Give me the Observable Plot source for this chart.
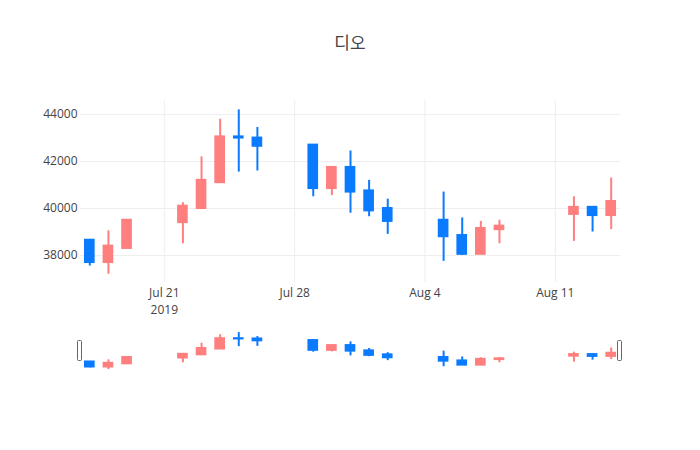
<!DOCTYPE html>
<html>
<head>
<meta charset="utf-8">
<script src="https://cdn.jsdelivr.net/npm/d3@7"></script>
<script src="https://cdn.jsdelivr.net/npm/@observablehq/plot@0.6"></script>
<style>
  html, body { margin: 0; padding: 0; background: #fff; }
  #wrap { position: relative; width: 700px; height: 450px; overflow: hidden;
          font-family: "Open Sans", "Noto Sans CJK KR", verdana, arial, sans-serif; }
  #title { position: absolute; top: 31px; left: 0; width: 700px; text-align: center;
           font-size: 17px; line-height: 24px; color: #444; }
  #main { position: absolute; top: 0; left: 0; }
  #slider { position: absolute; top: 320px; left: 0; }
</style>
</head>
<body>
<div id="wrap">
  <div id="main"></div>
  <div id="slider"></div>
  <div id="title">디오</div>
</div>
<script>
const title = "디오";
const dates = ["2019-07-17","2019-07-18","2019-07-19","2019-07-22","2019-07-23","2019-07-24","2019-07-25","2019-07-26",
               "2019-07-29","2019-07-30","2019-07-31","2019-08-01","2019-08-02",
               "2019-08-05","2019-08-06","2019-08-07","2019-08-08",
               "2019-08-12","2019-08-13","2019-08-14"];
const open  = [38650, 37700, 38300, 39400, 40000, 41100, 43050, 43000, 42700, 40850, 41750, 40750, 40000, 39500, 38850, 38050, 39100, 39750, 40050, 39700];
const high  = [38650, 39050, 39500, 40250, 42200, 43800, 44200, 43450, 42700, 41750, 42450, 41200, 40400, 40700, 39600, 39450, 39500, 40500, 40050, 41300];
const low   = [37550, 37200, 38300, 38500, 40000, 41100, 41550, 41600, 40500, 40550, 39800, 39650, 38900, 37750, 38000, 38050, 38500, 38600, 39000, 39100];
const close = [37700, 38400, 39500, 40100, 41200, 43050, 43000, 42650, 40850, 41750, 40700, 39900, 39450, 38800, 38050, 39150, 39250, 40050, 39700, 40300];
const yTicks = [38000, 40000, 42000, 44000];
const xTicks = ["2019-07-21","2019-07-28","2019-08-04","2019-08-11"];
const yearTick = ["2019-07-21"];
const xDomain = ["2019-07-16T12:00Z", "2019-08-14T12:00Z"];
const yDomain = [36850, 44600];

const upColor = "#ff7f7f", downColor = "#0a7bff";
const DAY = 864e5, HALF = 0.233 * DAY;

const data = dates.map((d, i) => ({
  date: new Date(d), open: open[i], high: high[i], low: low[i], close: close[i]
}));
const colorOf = d => d.close >= d.open ? upColor : downColor;
const fmt = d3.utcFormat("%b %-d");

function candleMarks() {
  return [
    Plot.ruleX(data, {x: "date", y1: "low", y2: "high", stroke: colorOf, strokeWidth: 2}),
    Plot.rect(data, {
      x1: d => new Date(+d.date - HALF), x2: d => new Date(+d.date + HALF),
      y1: "open", y2: "close", fill: colorOf, stroke: colorOf, strokeWidth: 2
    })
  ];
}

const font = {fontFamily: '"Open Sans", "Noto Sans CJK KR", verdana, arial, sans-serif', fontSize: "12px", color: "#444", background: "transparent"};

const main = Plot.plot({
  width: 700, height: 320,
  marginTop: 100, marginBottom: 38, marginLeft: 80, marginRight: 80,
  style: font,
  color: {type: "identity"},
  x: {type: "utc", domain: xDomain.map(d => new Date(d)), axis: null},
  y: {domain: yDomain, axis: null},
  marks: [
    Plot.gridX(xTicks.map(d => new Date(d)), {stroke: "#eee", strokeOpacity: 1, strokeWidth: 1}),
    Plot.gridY(yTicks, {stroke: "#eee", strokeOpacity: 1, strokeWidth: 1}),
    Plot.axisX(xTicks.map(d => new Date(d)), {
      tickSize: 0, tickPadding: 6, fill: "#444", tickFormat: d => fmt(d)
    }),
    Plot.axisX(yearTick.map(d => new Date(d)), {
      tickSize: 0, tickPadding: 23, fill: "#444", tickFormat: d => String(d.getUTCFullYear())
    }),
    Plot.axisY(yTicks, {tickSize: 0, tickPadding: 3, fill: "#444", tickFormat: d => String(d)}),
    ...candleMarks()
  ]
});
document.getElementById("main").appendChild(main);

const slider = Plot.plot({
  width: 700, height: 130,
  marginTop: 10, marginBottom: 79, marginLeft: 80, marginRight: 80,
  style: font,
  color: {type: "identity"},
  x: {type: "utc", domain: xDomain.map(d => new Date(d)), axis: null},
  y: {domain: yDomain, axis: null},
  marks: candleMarks()
});
document.getElementById("slider").appendChild(slider);

// range slider grab handles at the ends of the x domain
const sx = slider.scale("x"), sy = slider.scale("y");
const yMid = (sy.apply(yDomain[0]) + sy.apply(yDomain[1])) / 2;
d3.select(slider).append("g").selectAll("rect")
  .data(xDomain.map(d => new Date(d)))
  .join("rect")
  .attr("x", d => sx.apply(d) - 2.5)
  .attr("y", yMid - 10)
  .attr("width", 4)
  .attr("height", 20)
  .attr("rx", 1)
  .attr("fill", "#fff")
  .attr("stroke", "#666")
  .attr("stroke-width", 1);
</script>
</body>
</html>
